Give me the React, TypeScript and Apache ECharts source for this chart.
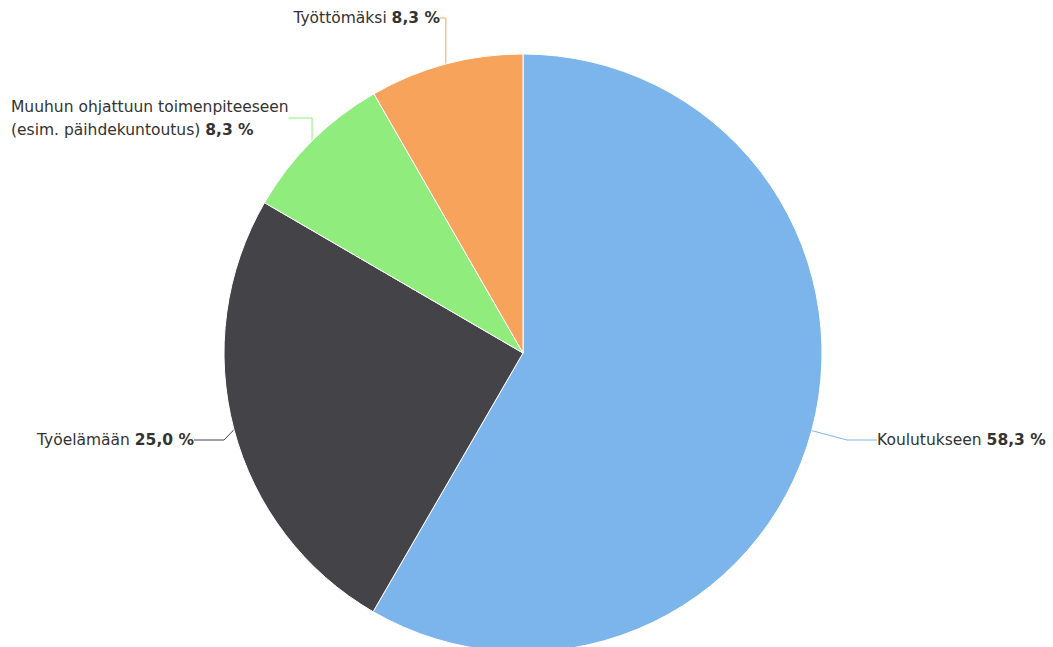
import React, { useEffect, useRef } from "react";
import * as echarts from "echarts";

const categories = [
  "Koulutukseen",
  "Työelämään",
  "Muuhun ohjattuun toimenpiteeseen\n(esim. päihdekuntoutus)",
  "Työttömäksi",
];
const values = [58.3, 25.0, 8.3, 8.3];
const colors = ["#7cb5ec", "#434348", "#90ed7d", "#f7a35c"];

// label anchor positions (pixels)
const labelPos = [
  { x: 877, y: 440, align: "left" },
  { x: 194, y: 440, align: "right" },
  { x: 11, y: 118, align: "left" },
  { x: 440, y: 18, align: "right" },
];

const FONT = "'DejaVu Sans', sans-serif";
const SIZE = 15.5;
const fmt = (v: number) => v.toFixed(1).replace(".", ",") + " %";

export default function App() {
  const ref = useRef<HTMLDivElement>(null);
  useEffect(() => {
    document.body.style.margin = "0";
    const chart = echarts.init(ref.current!, null, { renderer: "svg" });
    chart.setOption({
      animation: false,
      backgroundColor: "#ffffff",
      series: [
        {
          type: "pie",
          center: [523, 353],
          radius: 299,
          startAngle: 90,
          clockwise: true,
          data: categories.map((c, i) => ({
            name: c,
            value: values[i],
            itemStyle: { color: colors[i] },
            labelLine: { lineStyle: { color: colors[i], width: 1 } },
          })),
          itemStyle: { borderColor: "#ffffff", borderWidth: 1 },
          label: {
            show: true,
            position: "outside",
            overflow: "none",
            color: "#333333",
            fontFamily: FONT,
            fontSize: SIZE,
            lineHeight: 23,
            formatter: (p: any) => {
              const lines = String(p.name).split("\n");
              const head = lines.slice(0, -1).map((l) => `{n|${l}}`).join("\n");
              const last = `{n|${lines[lines.length - 1]}} {b|${fmt(p.value)}}`;
              return head ? head + "\n" + last : last;
            },
            rich: {
              n: { color: "#333333", fontSize: SIZE, fontFamily: FONT, lineHeight: 23 },
              b: { color: "#333333", fontSize: SIZE, fontWeight: "bold", fontFamily: FONT, lineHeight: 23 },
            },
          },
          labelLine: { show: true, length: 15, length2: 30, smooth: false },
          labelLayout: (params: any) => {
            const p = labelPos[params.dataIndex];
            return { x: p.x, y: p.y, align: p.align, verticalAlign: "middle" };
          },
        },
      ],
    });
    return () => chart.dispose();
  }, []);
  return <div ref={ref} style={{ width: 1053, height: 647 }} />;
}
